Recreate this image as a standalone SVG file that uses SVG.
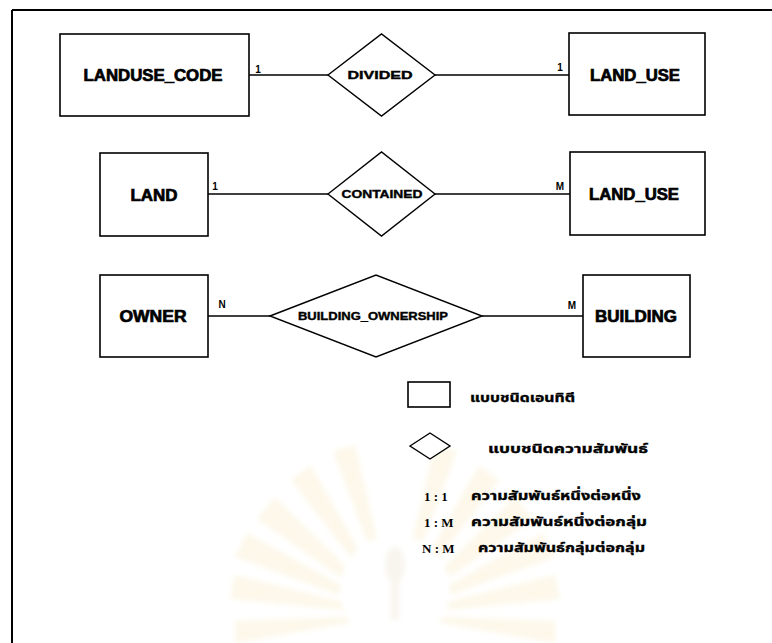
<svg xmlns="http://www.w3.org/2000/svg" width="772" height="643" viewBox="0 0 772 643">
<defs>
  <filter id="soft" x="-20%" y="-20%" width="140%" height="140%">
    <feGaussianBlur stdDeviation="2.5"/>
  </filter>
</defs>
<style>
  .ent { fill: #fff; stroke: #000; stroke-width: 1.6; }
  .rel { fill: #fff; stroke: #000; stroke-width: 1.4; }
  .conn { stroke: #000; stroke-width: 1.4; fill: none; }
  .et { font-family: "Liberation Sans", Arial, sans-serif; font-weight: bold; font-size: 16px; fill: #000; stroke: #000; stroke-width: 0.7; text-anchor: middle; dominant-baseline: central; }
  .rt { font-family: "Liberation Sans", Arial, sans-serif; font-weight: bold; font-size: 10px; fill: #000; stroke: #000; stroke-width: 0.35; text-anchor: middle; dominant-baseline: central; }
  .card { font-family: "Liberation Sans", Arial, sans-serif; font-weight: bold; font-size: 10px; fill: #000; text-anchor: middle; dominant-baseline: central; }
  .th { font-family: "Noto Sans Thai", "Noto Sans", "DejaVu Sans", sans-serif; font-weight: bold; font-size: 13px; fill: #000; stroke: #000; stroke-width: 0.35; dominant-baseline: central; }
  .ratio { font-family: "Liberation Serif", "Times New Roman", serif; font-weight: bold; font-size: 13px; fill: #000; dominant-baseline: central; }
  .ray { fill: #fdf8ea; }
</style>

<!-- faint background emblem -->
<g id="watermark" filter="url(#soft)">
  <g transform="translate(395,615)">
    <polygon class="ray" points="0,0 -160,-40 -165,-16"/>
    <polygon class="ray" points="0,0 -148,-82 -160,-58"/>
    <polygon class="ray" points="0,0 -120,-118 -138,-96"/>
    <polygon class="ray" points="0,0 -84,-150 -104,-135"/>
    <polygon class="ray" points="0,0 -40,-170 -62,-164"/>
    <polygon class="ray" points="0,0 160,-40 165,-16"/>
    <polygon class="ray" points="0,0 148,-82 160,-58"/>
    <polygon class="ray" points="0,0 120,-118 138,-96"/>
    <polygon class="ray" points="0,0 84,-150 104,-135"/>
    <polygon class="ray" points="0,0 40,-170 62,-164"/>
    <polygon class="ray" points="0,0 -160,6 -160,28"/>
    <polygon class="ray" points="0,0 160,6 160,28"/>
    <circle cx="0" cy="-25" r="55" fill="#ffffff"/>
    <ellipse cx="0" cy="-50" rx="10" ry="18" fill="#f8f5ee"/>
    <rect x="-4" y="-35" width="8" height="40" fill="#f8f5ee"/>
  </g>
</g>

<!-- frame -->
<g id="frame">
  <line x1="12" y1="10" x2="772" y2="10" stroke="#000" stroke-width="2"/>
  <line x1="12" y1="10" x2="12" y2="643" stroke="#000" stroke-width="2"/>
</g>

<g id="connectors">
  <line class="conn" x1="249" y1="75" x2="328" y2="75"/>
  <line class="conn" x1="435" y1="75" x2="569" y2="75"/>
  <line class="conn" x1="208" y1="194" x2="328" y2="194"/>
  <line class="conn" x1="435" y1="194" x2="570" y2="194"/>
  <line class="conn" x1="208" y1="316" x2="270" y2="316"/>
  <line class="conn" x1="482" y1="316" x2="583" y2="316"/>
  <text class="card" x="258" y="69">1</text>
  <text class="card" x="560" y="67">1</text>
  <text class="card" x="215" y="186">1</text>
  <text class="card" x="560" y="186">M</text>
  <text class="card" x="222" y="304">N</text>
  <text class="card" x="572" y="305">M</text>
</g>

<g id="landuse_code">
  <rect class="ent" x="60" y="34" width="189" height="82"/>
  <text class="et" x="153" y="75" textLength="139" lengthAdjust="spacingAndGlyphs">LANDUSE_CODE</text>
</g>
<g id="divided">
  <polygon class="rel" points="328,75 381.5,34 435,75 381.5,116"/>
  <text class="rt" x="380" y="75" textLength="65" lengthAdjust="spacingAndGlyphs">DIVIDED</text>
</g>
<g id="land_use_1">
  <rect class="ent" x="569" y="33" width="136" height="82"/>
  <text class="et" x="635" y="75" textLength="90" lengthAdjust="spacingAndGlyphs">LAND_USE</text>
</g>

<g id="land">
  <rect class="ent" x="100" y="153" width="108" height="83"/>
  <text class="et" x="154" y="195" textLength="47" lengthAdjust="spacingAndGlyphs">LAND</text>
</g>
<g id="contained">
  <polygon class="rel" points="328,194 381.5,152 435,194 381.5,236"/>
  <text class="rt" x="382" y="194" textLength="81" lengthAdjust="spacingAndGlyphs">CONTAINED</text>
</g>
<g id="land_use_2">
  <rect class="ent" x="570" y="152" width="135" height="83"/>
  <text class="et" x="634" y="194" textLength="90" lengthAdjust="spacingAndGlyphs">LAND_USE</text>
</g>

<g id="owner">
  <rect class="ent" x="100" y="275" width="108" height="82"/>
  <text class="et" x="153" y="316" textLength="67" lengthAdjust="spacingAndGlyphs">OWNER</text>
</g>
<g id="building_ownership">
  <polygon class="rel" points="270,316 376,275 482,316 376,357"/>
  <text class="rt" x="373" y="316" textLength="150" lengthAdjust="spacingAndGlyphs">BUILDING_OWNERSHIP</text>
</g>
<g id="building">
  <rect class="ent" x="583" y="275" width="107" height="82"/>
  <text class="et" x="636" y="316" textLength="82" lengthAdjust="spacingAndGlyphs">BUILDING</text>
</g>

<g id="legend">
  <rect class="ent" x="408" y="382" width="42" height="25" stroke-width="1.4"/>
  <text class="th" x="470" y="398" textLength="105" lengthAdjust="spacingAndGlyphs">แบบชนิดเอนทิตี</text>
  <polygon class="rel" points="410,446 430,433 450,446 430,459"/>
  <text class="th" x="488" y="449" textLength="160" lengthAdjust="spacingAndGlyphs">แบบชนิดความสัมพันธ์</text>
  <text class="ratio" x="424" y="496">1 : 1</text>
  <text class="th" x="471" y="496" textLength="170" lengthAdjust="spacingAndGlyphs">ความสัมพันธ์หนึ่งต่อหนึ่ง</text>
  <text class="ratio" x="424" y="522">1 : M</text>
  <text class="th" x="471" y="522" textLength="176" lengthAdjust="spacingAndGlyphs">ความสัมพันธ์หนึ่งต่อกลุ่ม</text>
  <text class="ratio" x="422" y="548">N : M</text>
  <text class="th" x="478" y="548" textLength="167" lengthAdjust="spacingAndGlyphs">ความสัมพันธ์กลุ่มต่อกลุ่ม</text>
</g>
</svg>
